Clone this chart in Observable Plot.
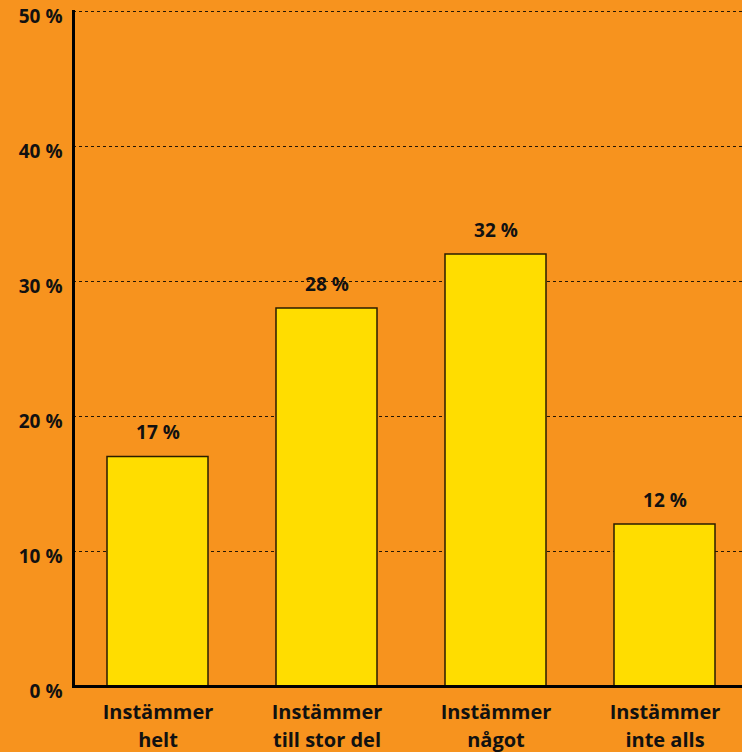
<!DOCTYPE html>
<html>
<head>
<meta charset="utf-8">
<script src="https://cdn.jsdelivr.net/npm/d3@7"></script>
<script src="https://cdn.jsdelivr.net/npm/@observablehq/plot@0.6"></script>
<style>
  html, body { margin: 0; padding: 0; background: #F7931E; overflow: hidden; }
</style>
</head>
<body>
<div id="chart"></div>
<script>
const categories = ["Instämmer\nhelt", "Instämmer\ntill stor del", "Instämmer\nnågot", "Instämmer\ninte alls"];
const values = [17, 28, 32, 12];
const yTicks = [0, 10, 20, 30, 40, 50];

const data = categories.map((c, i) => ({category: c, value: values[i]}));

const chart = Plot.plot({
  width: 742,
  height: 752,
  marginTop: 11,
  marginBottom: 66,
  marginLeft: 73,
  marginRight: 0,
  style: {background: "#F7931E", fontFamily: "'Open Sans', sans-serif", fontWeight: 700, color: "#111"},
  x: {domain: categories, range: [73, 749], padding: 0, label: null},
  y: {domain: [0, 50], label: null},
  marks: [
    Plot.gridY(yTicks, {stroke: "#000", strokeOpacity: 0.85, strokeWidth: 1, strokeDasharray: "3,3"}),
    Plot.barY(data, {x: "category", y: "value", fill: "#FFDD00", stroke: "#2a1d00", strokeWidth: 1.5, insetLeft: 34, insetRight: 34}),
    Plot.text(data, {x: "category", y: "value", text: d => d.value + " %", dy: -24, fontSize: 19, fontWeight: 700, fill: "#111"}),
    Plot.axisY(yTicks, {tickSize: 0, tickPadding: 11, tickFormat: d => d + " %", fontSize: 19, fontWeight: 700, dy: 5, label: null}),
    Plot.axisX({tickSize: 0, tickPadding: 13, fontSize: 20, fontWeight: 700, lineHeight: 1.4, label: null}),
    Plot.frame({anchor: "left", stroke: "#000", strokeWidth: 3}),
    Plot.ruleY([0], {stroke: "#000", strokeWidth: 3})
  ]
});
document.getElementById("chart").append(chart);
</script>
</body>
</html>
